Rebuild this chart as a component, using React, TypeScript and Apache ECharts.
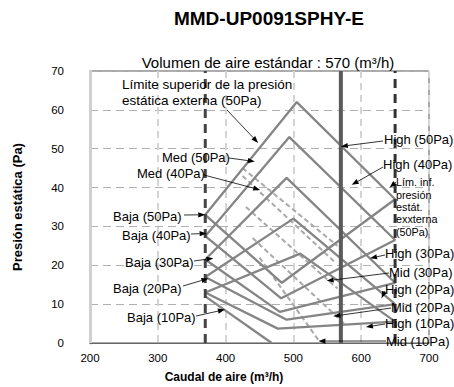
import React, { useEffect, useRef } from "react";
import * as echarts from "echarts";

// ---- data ----
const titleText = "MMD-UP0091SPHY-E";
const subtitleText = "Volumen de aire estándar : 570 (m³/h)";
const xName = "Caudal de aire (m³/h)";
const yName = "Presión estática (Pa)";

const xMin = 200, xMax = 700, xStep = 100;
const yMin = 0, yMax = 70, yStep = 10;

const minFlow = 370;
const stdFlow = 570;
const maxFlow = 650;

// operating ranges for each external static pressure setting (closed polylines)
const range50: [number, number][] = [[370, 33], [505, 62], [650, 37], [483, 15.5], [370, 33]];
const range40: [number, number][] = [[370, 27.5], [494, 53], [650, 26.5], [482, 11.5], [370, 27.5]];
const range30: [number, number][] = [[370, 21.5], [490, 42.5], [650, 15.5], [480, 8], [370, 21.5]];
const range20: [number, number][] = [[370, 17], [500, 32], [650, 10], [490, 6], [370, 17]];
const range10: [number, number][] = [[370, 13], [510, 23], [650, 5.5], [477, 3.7], [370, 13]];
const baja10Curve: [number, number][] = [[370, 12], [468, 0]];

// medium-speed curves (dashed)
const med50: [number, number][] = [[425, 45], [565, 25]];
const med40: [number, number][] = [[425, 43], [560, 21]];
const med30: [number, number][] = [[430, 35], [565, 14]];
const med20: [number, number][] = [[440, 27], [575, 5]];
const med10: [number, number][] = [[450, 22], [540, 0]];

// annotation texts and the data point each arrow points at
const annTexts: string[][] = [
  ["Límite superior de la presión", "estática externa (50Pa)"],
  ["Med (50Pa)"], ["Med (40Pa)"],
  ["Baja (50Pa)"], ["Baja (40Pa)"], ["Baja (30Pa)"], ["Baja (20Pa)"], ["Baja (10Pa)"],
  ["High (50Pa)"], ["High (40Pa)"],
  ["Lím. inf.", "presión", "estát.", "exxterna", "(50Pa)"],
  ["High (30Pa)"], ["Mid (30Pa)"], ["High (20Pa)"], ["Mid (20Pa)"], ["High (10Pa)"], ["Mid (10Pa)"],
];
const annTips: [number, number][] = [
  [448, 51.5],
  [443, 46.7], [451, 39.4],
  [370, 33], [372, 28.2], [382, 21.8], [374.6, 16.6], [399, 8.6],
  [570, 50.6], [586, 40.7],
  [642, 40],
  [613, 21.8], [549, 16], [630, 11.5], [559, 6.9], [607, 4.1], [537, 0.5],
];

// ---- layout (pixels) ----
// [textLeft, textTopY, lineHeight, leaderStartX, leaderStartY, fontSize]
const annLayout: number[][] = [
  [122, 76, 16, 227, 110, 13.5],
  [162, 149.5, 16, 229, 158, 13], [137, 165.5, 16, 204, 175, 13],
  [113, 208.5, 16, 184, 215, 13], [122, 227.5, 16, 191, 234, 13], [125, 254.5, 16, 194, 261, 13], [113, 280.5, 16, 183, 286, 13], [127, 309.5, 16, 196, 316, 13],
  [384, 131.5, 16, 383, 141, 13], [383, 156.5, 16, 383, 167, 13],
  [396, 176, 12.4, 396, 182, 10.8],
  [385, 245.5, 16, 385, 255, 13], [389, 264.5, 16, 389, 273, 13], [385, 281.5, 16, 385, 291, 13], [391, 299.5, 16, 391, 308, 13], [385, 315.5, 16, 385, 324, 13], [386, 333.5, 16, 386, 341, 13],
];

const FONT = "'Liberation Sans', Arial, Helvetica, sans-serif";

function arrowEls(from: number[], tip: number[]) {
  const dx = tip[0] - from[0], dy = tip[1] - from[1];
  const len = Math.hypot(dx, dy) || 1;
  const ux = dx / len, uy = dy / len;
  const hl = 7, hw = 2.6;
  const bx = tip[0] - ux * hl, by = tip[1] - uy * hl;
  return [
    { type: "line", silent: true, z: 50, shape: { x1: from[0], y1: from[1], x2: bx, y2: by }, style: { stroke: "#000", lineWidth: 0.8 } },
    {
      type: "polygon", silent: true, z: 50,
      shape: { points: [[tip[0], tip[1]], [bx - uy * hw, by + ux * hw], [bx + uy * hw, by - ux * hw]] },
      style: { fill: "#000" },
    },
  ];
}

export default function App() {
  const ref = useRef<HTMLDivElement>(null);
  useEffect(() => {
    if (!ref.current) return;
    const chart = echarts.init(ref.current, undefined, { renderer: "svg" });
    const solid = (name: string, data: [number, number][]) => ({
      name, type: "line", data, symbol: "none", silent: true, z: 3,
      lineStyle: { color: "#858585", width: 2.3 },
    });
    const dashed = (name: string, data: [number, number][]) => ({
      name, type: "line", data, symbol: "none", silent: true, z: 2,
      lineStyle: { color: "#a9a9a9", width: 2, type: [5, 3] },
    });
    const vline = (name: string, x: number, color: string, width: number, type: any) => ({
      name, type: "line", data: [[x, yMin], [x, yMax]], symbol: "none", silent: true, z: 4,
      lineStyle: { color, width, type },
    });

    chart.setOption({
      animation: false,
      grid: { left: 90, right: 25, top: 71, bottom: 44, show: true, borderColor: "#555", borderWidth: 1 },
      xAxis: {
        type: "value", min: xMin, max: xMax, interval: xStep,
        axisLine: { show: true, lineStyle: { color: "#666", width: 1 } },
        axisTick: { show: false },
        axisLabel: { color: "#000", fontSize: 11.5, fontFamily: FONT, margin: 9 },
        splitLine: { show: true, lineStyle: { color: "#d4d4d4", width: 2, type: [7, 5] } },
      },
      yAxis: {
        type: "value", min: yMin, max: yMax, interval: yStep,
        name: yName, nameLocation: "middle", nameGap: 66,
        nameTextStyle: { color: "#000", fontSize: 13, fontWeight: "bold", fontFamily: FONT },
        axisLine: { show: true, lineStyle: { color: "#d0d0d0", width: 3 } },
        axisTick: { show: false },
        axisLabel: { color: "#000", fontSize: 11.5, fontFamily: FONT, margin: 26 },
        splitLine: { show: true, lineStyle: { color: "#b0b0b0", width: 1, type: [8, 5] } },
      },
      series: [
        vline("min", minFlow, "#444", 3, [9, 6]),
        vline("std", stdFlow, "#5a5a5a", 4, "solid"),
        vline("max", maxFlow, "#333", 3, [9, 6]),
        solid("r50", range50), solid("r40", range40), solid("r30", range30),
        solid("r20", range20), solid("r10", range10), solid("b10", baja10Curve),
        dashed("m50", med50), dashed("m40", med40), dashed("m30", med30),
        dashed("m20", med20), dashed("m10", med10),
      ],
    });

    const graphics: any[] = [
      { type: "text", x: 269, y: 18, silent: true, style: { text: titleText, fontSize: 19, fontWeight: "bold", fontFamily: FONT, fill: "#000", align: "center", verticalAlign: "middle" } },
      { type: "text", x: 268, y: 62, silent: true, style: { text: subtitleText, fontSize: 15, fontFamily: FONT, fill: "#000", align: "center", verticalAlign: "middle" } },
      { type: "text", x: 224, y: 377, silent: true, style: { text: xName, fontSize: 12, fontWeight: "bold", fontFamily: FONT, fill: "#000", align: "center", verticalAlign: "middle" } },
    ];
    annTexts.forEach((lines, i) => {
      const [tx, ty, lh, lx, ly, fs] = annLayout[i];
      graphics.push({
        type: "text", x: tx, y: ty, silent: true, z: 60,
        style: { text: lines.join("\n"), fontSize: fs, lineHeight: lh, fontFamily: FONT, fill: "#000", align: "left", verticalAlign: "top" },
      });
      const tip = chart.convertToPixel({ gridIndex: 0 }, annTips[i]) as number[];
      graphics.push(...arrowEls([lx, ly], tip));
    });
    chart.setOption({ graphic: graphics });

    return () => chart.dispose();
  }, []);
  return <div ref={ref} style={{ width: 454, height: 387, position: "absolute", left: 0, top: 0 }} />;
}
